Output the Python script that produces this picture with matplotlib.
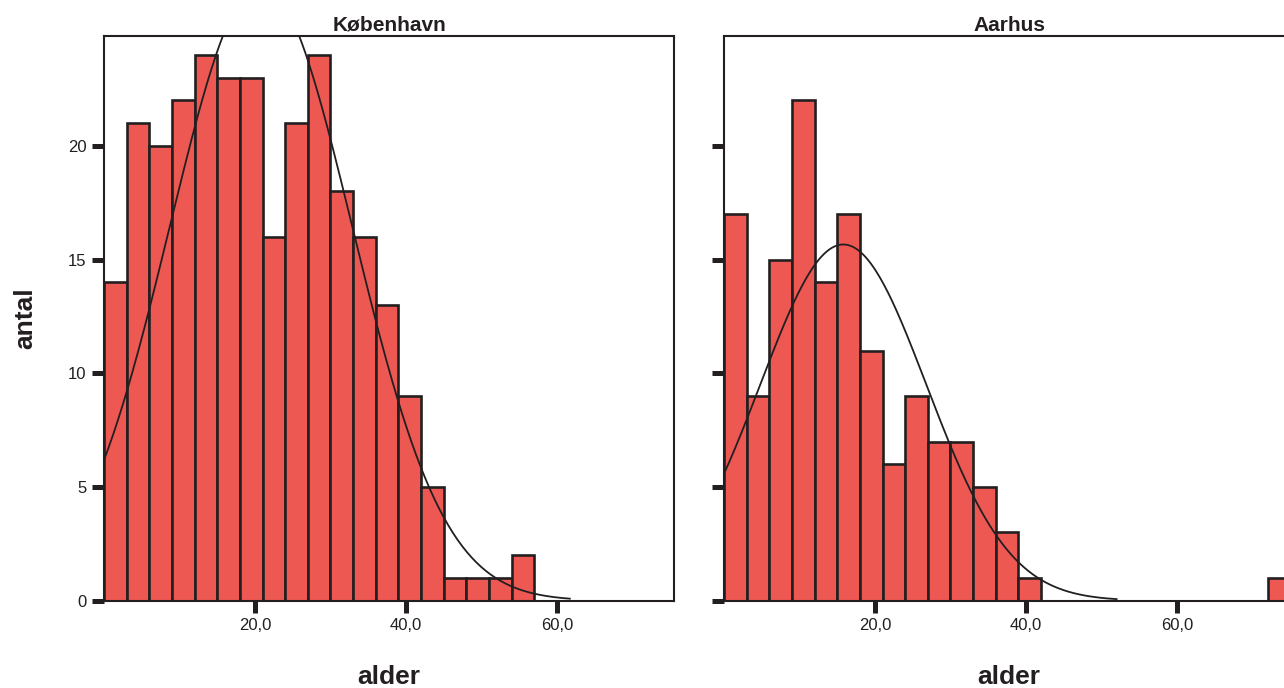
import numpy as np
import matplotlib.pyplot as plt

# histogram data (bin width 3 years)
bin_width = 3
kbh_starts = [0, 3, 6, 9, 12, 15, 18, 21, 24, 27, 30, 33, 36, 39, 42, 45, 48, 51, 54]
kbh_counts = [14, 21, 20, 22, 24, 23, 23, 16, 21, 24, 18, 16, 13, 9, 5, 1, 1, 1, 2]
aarhus_starts = [0, 3, 6, 9, 12, 15, 18, 21, 24, 27, 30, 33, 36, 39, 72]
aarhus_counts = [17, 9, 15, 22, 14, 17, 11, 6, 9, 7, 7, 5, 3, 1, 1]

# fitted normal curves: mean, sd, end of drawn curve
kbh_normal = (20.8, 12.1, 61.7)
aarhus_normal = (15.8, 11.0, 52.0)

titles = ['København', 'Aarhus']
x_ticks = [20, 40, 60]
x_ticklabels = ['20,0', '40,0', '60,0']
y_ticks = [0, 5, 10, 15, 20]

BAR_COLOR = '#ED5853'
DARK = '#231F20'

plt.rcParams['font.family'] = ['Liberation Sans', 'DejaVu Sans']


def normal_curve(ax, n, mean, sd, x_end):
    xs = np.linspace(0, x_end, 300)
    ys = n * bin_width / (sd * np.sqrt(2 * np.pi)) * np.exp(-0.5 * ((xs - mean) / sd) ** 2)
    ax.plot(xs, ys, color=DARK, lw=1.3)


def draw_panel(ax, title, starts, counts, normal, show_ylabels):
    ax.bar(starts, counts, width=bin_width, align='edge', color=BAR_COLOR,
           edgecolor=DARK, linewidth=1.9)
    normal_curve(ax, sum(counts), *normal)
    ax.set_xlim(0, 75.5)
    ax.set_ylim(0, 24.85)
    ax.set_xticks(x_ticks)
    ax.set_xticklabels(x_ticklabels)
    ax.set_yticks(y_ticks)
    if not show_ylabels:
        ax.set_yticklabels([])
    ax.tick_params(direction='out', length=8.6, width=3.6, color=DARK,
                   labelsize=12, labelcolor=DARK, pad=4)
    for sp in ax.spines.values():
        sp.set_color(DARK)
        sp.set_linewidth(1.5)
    ax.set_title(title, fontsize=15, fontweight='bold', color=DARK, pad=3.4)
    ax.set_xlabel('alder', fontsize=19, fontweight='bold', color=DARK)
    ax.xaxis.set_label_coords(0.5, -0.113)


fig = plt.figure(figsize=(12.84, 6.88), dpi=100)
ax1 = fig.add_axes([104 / 1284, 87.3 / 688, 570 / 1284, 565 / 688])
ax2 = fig.add_axes([724 / 1284, 87.3 / 688, 570 / 1284, 565 / 688])

draw_panel(ax1, titles[0], kbh_starts, kbh_counts, kbh_normal, True)
draw_panel(ax2, titles[1], aarhus_starts, aarhus_counts, aarhus_normal, False)

fig.text(25 / 1284, 1 - 318 / 688, 'antal', rotation=90, ha='center', va='center',
         fontsize=19, fontweight='bold', color=DARK)

fig.savefig('out.png', dpi=100)
